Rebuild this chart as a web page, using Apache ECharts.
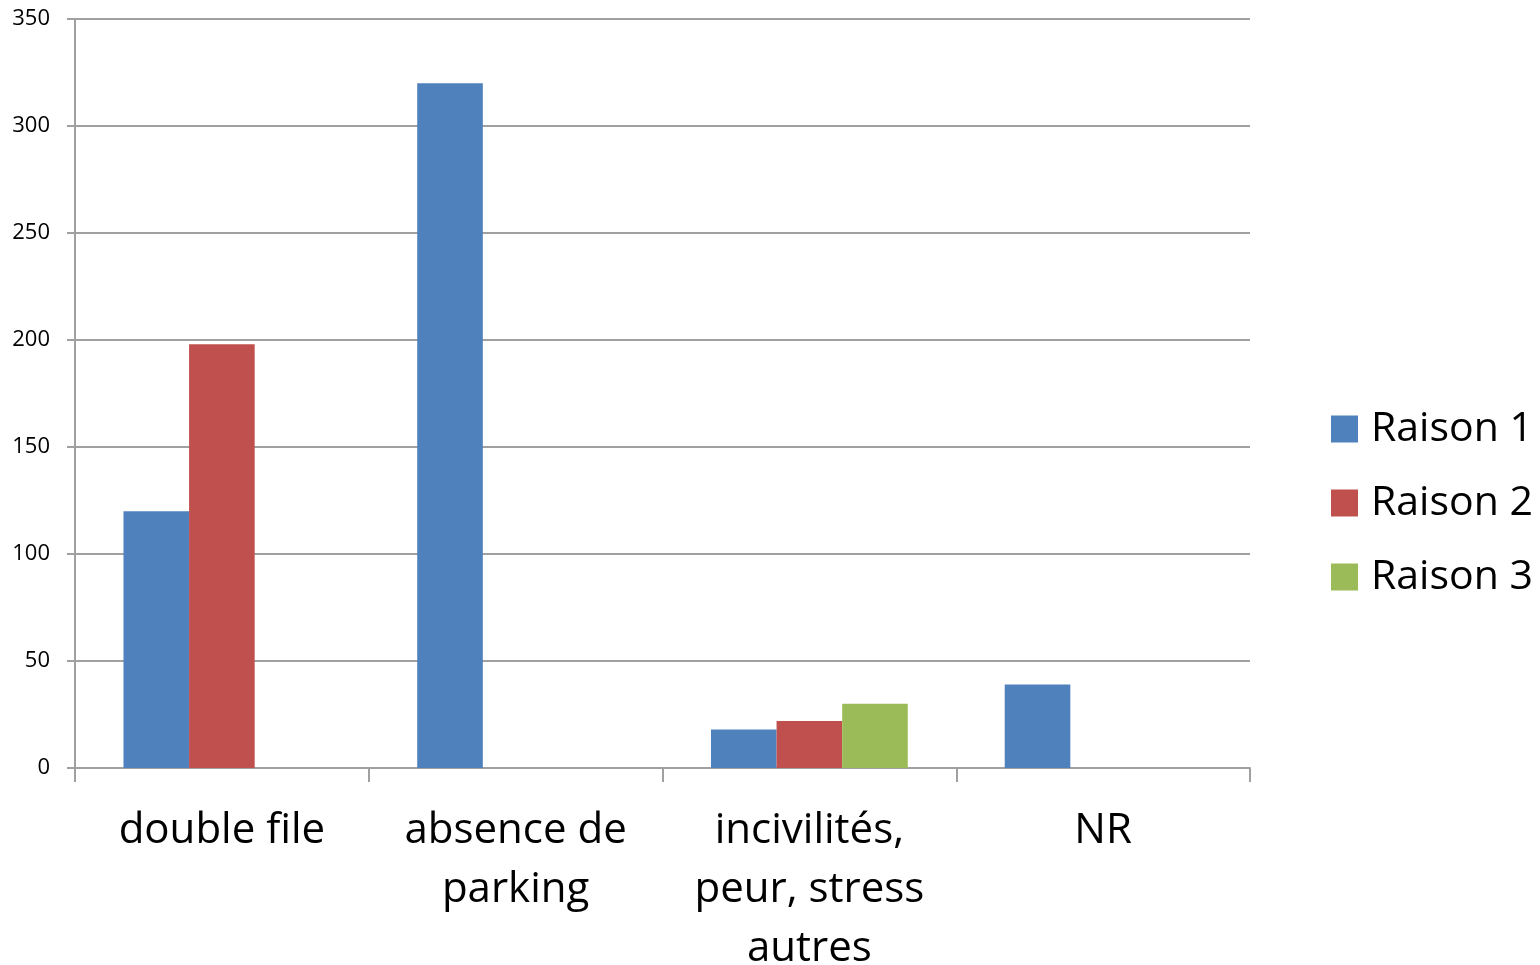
<!DOCTYPE html>
<html>
<head>
<meta charset="utf-8">
<script src="https://cdn.jsdelivr.net/npm/echarts@6/dist/echarts.min.js"></script>
<style>
  html, body { margin: 0; padding: 0; background: #fff; }
  #chart { width: 1540px; height: 965px; }
</style>
</head>
<body>
<div id="chart"></div>
<script>
var categories = ['double file', 'absence de\nparking', 'incivilités,\npeur, stress\nautres', 'NR']
var raison1 = [120, 320, 18, 39]
var raison2 = [198, '-', 22, '-']
var raison3 = ['-', '-', 30, '-']
var yTicks = [0, 350, 50]   // min, max, interval

var font = 'Open Sans'
var chart = echarts.init(document.getElementById('chart'))

chart.setOption({
  animation: false,
  textStyle: { fontFamily: font },
  grid: {
    left: 75,
    right: 290,
    top: 19,
    bottom: 197,
    outerBoundsMode: 'none'
  },
  legend: {
    orient: 'vertical',
    left: 1326,
    top: 402,
    itemWidth: 27,
    itemHeight: 27,
    itemGap: 30,
    icon: 'rect',
    textStyle: { fontSize: 41, lineHeight: 44, color: '#000', fontFamily: font, padding: [0, 0, 0, 8] },
    data: ['Raison 1', 'Raison 2', 'Raison 3']
  },
  xAxis: {
    type: 'category',
    data: categories,
    axisLine: { lineStyle: { color: '#a0a0a0', width: 2 } },
    axisTick: { show: true, length: 14, lineStyle: { color: '#a0a0a0', width: 2 } },
    axisLabel: {
      interval: 0,
      fontSize: 42,
      lineHeight: 59,
      margin: 34,
      color: '#000',
      fontFamily: font
    }
  },
  yAxis: {
    type: 'value',
    min: yTicks[0],
    max: yTicks[1],
    interval: yTicks[2],
    axisLine: { show: true, lineStyle: { color: '#a0a0a0', width: 2 } },
    axisTick: { show: true, length: 8, lineStyle: { color: '#a0a0a0', width: 2 } },
    splitLine: { lineStyle: { color: '#a0a0a0', width: 2 } },
    axisLabel: { fontSize: 22, color: '#000', margin: 25, fontFamily: font }
  },
  series: [
    {
      name: 'Raison 1', type: 'bar', data: raison1,
      barGap: 0, barCategoryGap: '33%',
      itemStyle: { color: '#4f81bd' }
    },
    {
      name: 'Raison 2', type: 'bar', data: raison2,
      itemStyle: { color: '#c0504d' }
    },
    {
      name: 'Raison 3', type: 'bar', data: raison3,
      itemStyle: { color: '#9bbb59' }
    }
  ]
})
</script>
</body>
</html>
